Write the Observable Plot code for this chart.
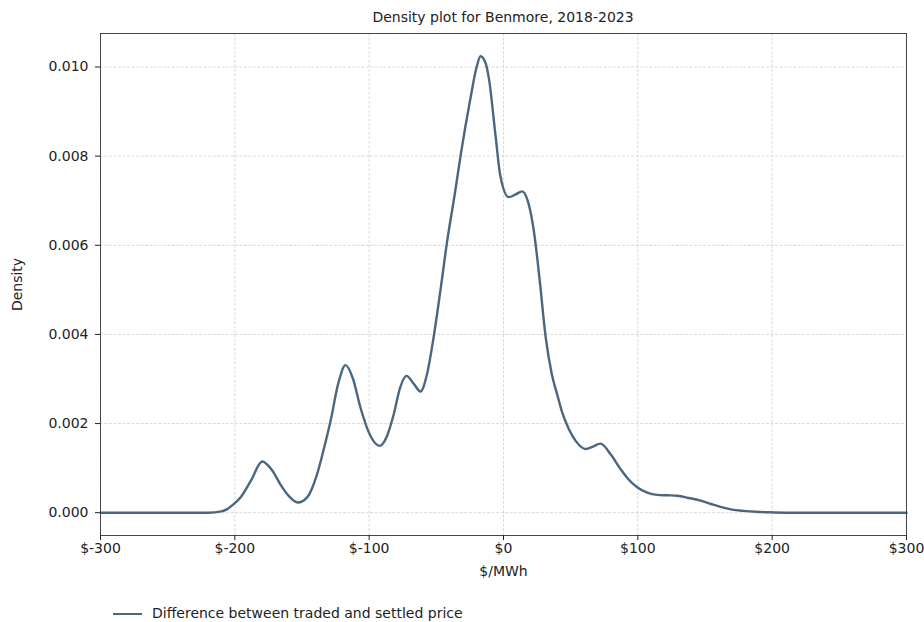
<!DOCTYPE html>
<html>
<head>
<meta charset="utf-8">
<script src="https://cdn.jsdelivr.net/npm/d3@7"></script>
<script src="https://cdn.jsdelivr.net/npm/@observablehq/plot@0.6"></script>
<style>
  html, body { margin: 0; padding: 0; background: #fff; }
  body { width: 924px; height: 622px; overflow: hidden; font-family: "DejaVu Sans", sans-serif; color: #222; }
  #title { box-sizing: border-box; height: 28px; padding-top: 9px; line-height: 17px; font-size: 14px; margin-left: 100px; width: 806px; text-align: center; }
  #legend { box-sizing: border-box; height: 34px; padding-top: 17px; font-size: 14px; line-height: 17px; padding-left: 113px; display: flex; align-items: center; }
  #legend .sw { display: inline-block; width: 29px; height: 0; border-top: 2.4px solid #4a6680; margin-right: 10px; }
</style>
</head>
<body>
<div id="title"></div>
<div id="chart"></div>
<div id="legend"></div>
<script>
const titleText = "Density plot for Benmore, 2018-2023";
const xLabel = "$/MWh";
const yLabel = "Density";
const seriesName = "Difference between traded and settled price";

const xTicks = [-300, -200, -100, 0, 100, 200, 300];
const yTicks = [0, 0.002, 0.004, 0.006, 0.008, 0.010];

const priceDiff = [-300, -250, -220, -210, -205.7, -201.7, -195.8, -188, -179.6, -172, -166, -160, -153.1, -146, -138.7, -134, -128.8, -123, -117.6, -112, -106.5, -99, -92.3, -87, -81.7, -77, -72.2, -67, -61.8, -57, -51.9, -46.9, -41.9, -36, -32, -24.6, -20, -17.1, -13.5, -10.9, -6, -2.3, 3.96, 9, 13.9, 18, 22.6, 27, 31.3, 36, 40, 44, 48.6, 54, 61.1, 67, 72.2, 80, 87.1, 93, 99.5, 107, 114.4, 122, 129.3, 138, 146.7, 154, 161.5, 170, 178.9, 188, 196.3, 210, 250, 300];
const density = [0, 0, 0, 0.00003, 0.00008, 0.00017, 0.00034, 0.00072, 0.00115, 0.00094, 0.00063, 0.00038, 0.00023, 0.00035, 0.00087, 0.0014, 0.00205, 0.0029, 0.00331, 0.00300, 0.00236, 0.00172, 0.0015, 0.0017, 0.00221, 0.0028, 0.00307, 0.0029, 0.00272, 0.0031, 0.00396, 0.00500, 0.0061, 0.0072, 0.00800, 0.00930, 0.0100, 0.01024, 0.0101, 0.00975, 0.00848, 0.00755, 0.00708, 0.00714, 0.00721, 0.0070, 0.00632, 0.0052, 0.00396, 0.0031, 0.00265, 0.00222, 0.00188, 0.00160, 0.00143, 0.00149, 0.00155, 0.0013, 0.00098, 0.00075, 0.00057, 0.00045, 0.0004, 0.00039, 0.00038, 0.00033, 0.00027, 0.0002, 0.00013, 0.00007, 0.00004, 0.00002, 0.00001, 0, 0, 0];

const data = priceDiff.map((x, i) => ({x, y: density[i]}));
const lineColor = "#4a6680";
const yMax = d3.max(density);

document.getElementById("title").textContent = titleText;
const legend = document.getElementById("legend");
legend.innerHTML = '<span class="sw"></span><span></span>';
legend.lastChild.textContent = seriesName;

const chart = Plot.plot({
  width: 924,
  height: 560,
  marginLeft: 100,
  marginRight: 18,
  marginTop: 5,
  marginBottom: 53,
  style: {fontFamily: "DejaVu Sans, sans-serif", fontSize: "14px", color: "#222", background: "transparent"},
  x: {domain: [-300, 300]},
  y: {domain: [-0.05 * yMax, 1.05 * yMax]},
  marks: [
    Plot.gridX(xTicks, {stroke: "#b0b0b0", strokeOpacity: 0.6, strokeDasharray: "3,1.5", strokeWidth: 0.8}),
    Plot.gridY(yTicks, {stroke: "#b0b0b0", strokeOpacity: 0.6, strokeDasharray: "3,1.5", strokeWidth: 0.8}),
    Plot.axisX(xTicks, {tickFormat: d => `$${d}`, tickSize: 5, tickPadding: 3, label: xLabel, labelAnchor: "center", labelArrow: "none", labelOffset: 40, fontSize: 14}),
    Plot.axisY(yTicks, {tickFormat: d3.format(".3f"), tickSize: 5, tickPadding: 7, label: yLabel, labelAnchor: "center", labelArrow: "none", labelOffset: 88, fontSize: 14}),
    Plot.line(data, {x: "x", y: "y", stroke: lineColor, strokeWidth: 2.4, curve: "monotone-x"}),
    Plot.frame({stroke: "#333", strokeWidth: 0.9})
  ]
});
document.getElementById("chart").appendChild(chart);
</script>
</body>
</html>
